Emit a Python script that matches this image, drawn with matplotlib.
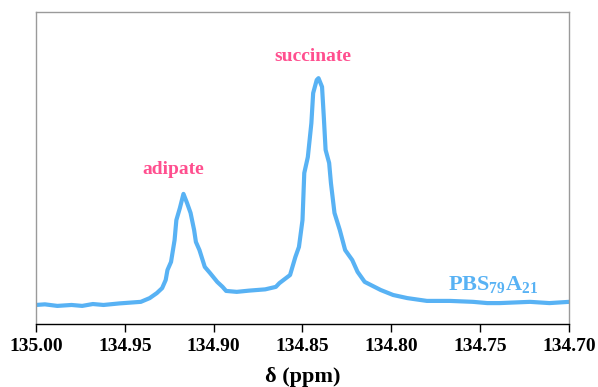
import matplotlib
matplotlib.use("Agg")
import matplotlib.pyplot as plt

plt.rcParams['font.family'] = ['Liberation Serif', 'DejaVu Serif']
plt.rcParams['mathtext.fontset'] = 'custom'
plt.rcParams['mathtext.rm'] = 'Liberation Serif'
plt.rcParams['mathtext.bf'] = 'Liberation Serif:bold'

ppm = [135.000, 134.995, 134.988, 134.980, 134.974, 134.968, 134.962, 134.953,
       134.941, 134.936, 134.932, 134.929, 134.927, 134.926, 134.924, 134.922,
       134.921, 134.919, 134.917, 134.915, 134.913, 134.911, 134.910, 134.908,
       134.905, 134.902, 134.898, 134.895, 134.893, 134.887, 134.880, 134.871,
       134.865, 134.863, 134.857, 134.854, 134.852, 134.850, 134.849, 134.847,
       134.845, 134.844, 134.842, 134.841, 134.839, 134.838, 134.837, 134.835,
       134.834, 134.832, 134.829, 134.826, 134.822, 134.819, 134.815, 134.806,
       134.799, 134.791, 134.780, 134.767, 134.754, 134.746, 134.739, 134.722,
       134.711, 134.700]
intensity = [6.1, 6.3, 5.8, 6.1, 5.8, 6.4, 6.1, 6.6,
             7.1, 8.3, 9.9, 11.5, 14.1, 17.3, 19.9, 26.9,
             33.3, 37.2, 41.7, 38.8, 35.6, 30.1, 26.3, 23.7,
             18.3, 16.3, 13.5, 11.9, 10.6, 10.3, 10.7, 11.1,
             11.9, 13.1, 15.7, 21.5, 24.7, 33.3, 48.4, 53.5,
             64.4, 74.0, 78.2, 78.8, 76.0, 66.3, 55.8, 51.6,
             45.2, 35.6, 30.1, 23.7, 20.5, 16.7, 13.5, 10.9,
             9.3, 8.3, 7.4, 7.4, 7.1, 6.7, 6.7, 7.1,
             6.7, 7.1]

xticks = [135.00, 134.95, 134.90, 134.85, 134.80, 134.75, 134.70]
xtick_labels = ['135.00', '134.95', '134.90', '134.85', '134.80', '134.75', '134.70']

line_color = '#58B2F4'
pink = '#FF4F8F'

fig = plt.figure(figsize=(5.98, 3.87), dpi=100)
ax = fig.add_axes([0.0602, 0.1628, 0.8913, 0.8062])
ax.plot(ppm, intensity, color=line_color, lw=3.0, solid_joinstyle='round',
        solid_capstyle='round')
ax.set_xlim(135.00, 134.70)
ax.set_ylim(0, 100)
ax.set_xticks(xticks)
ax.set_xticklabels(xtick_labels, fontsize=14, fontweight='bold')
ax.set_yticks([])
ax.tick_params(axis='x', direction='out', length=6, width=1, color='black', pad=4)
for s in ['left', 'top', 'right']:
    ax.spines[s].set_color('#9a9a9a')
    ax.spines[s].set_linewidth(1)
ax.spines['bottom'].set_color('black')
ax.spines['bottom'].set_linewidth(1)
ax.set_xlabel('δ (ppm)', fontsize=16, fontweight='bold', labelpad=9)

ax.text(134.923, 49.4, 'adipate', color=pink, fontsize=14, fontweight='bold',
        ha='center', va='center')
ax.text(134.844, 85.6, 'succinate', color=pink, fontsize=14, fontweight='bold',
        ha='center', va='center')
ax.text(134.743, 12.5, r'$\mathbf{PBS_{79}A_{21}}$', color=line_color, fontsize=16,
        ha='center', va='center')

fig.savefig('out.png', dpi=100)
